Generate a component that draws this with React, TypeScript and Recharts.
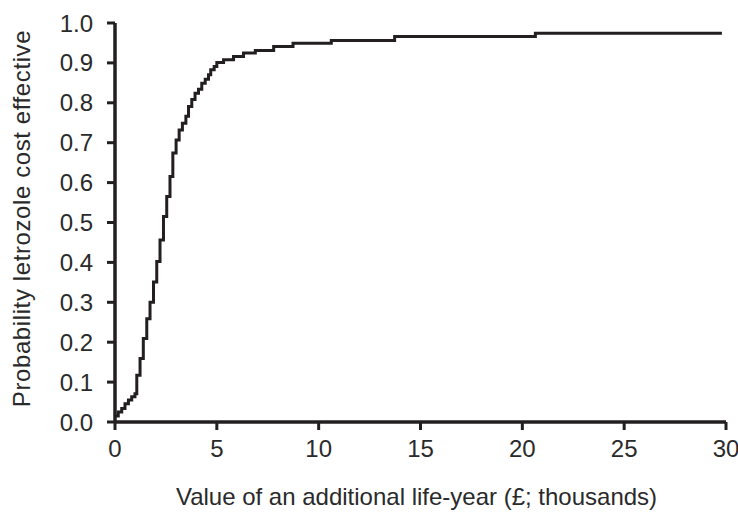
import { LineChart, Line, XAxis, YAxis } from 'recharts'

// value of an additional life-year (£ thousands) and probability cost effective
const xValues = [
  0, 0.16, 0.33, 0.49, 0.66, 0.82, 0.98, 1.07, 1.23, 1.39, 1.56, 1.72, 1.89,
  2.05, 2.21, 2.38, 2.54, 2.7, 2.84, 3.0, 3.15, 3.31, 3.48, 3.61, 3.77, 3.93,
  4.1, 4.26, 4.43, 4.59, 4.7, 4.87, 5.0, 5.33, 5.82, 6.31, 6.89, 7.79, 8.74,
  10.62, 13.73, 20.64, 29.8,
]
const probValues = [
  0.015, 0.025, 0.034, 0.046, 0.055, 0.063, 0.071, 0.117, 0.159, 0.209, 0.259,
  0.3, 0.351, 0.402, 0.456, 0.515, 0.565, 0.615, 0.674, 0.707, 0.732, 0.749,
  0.766, 0.791, 0.808, 0.824, 0.834, 0.849, 0.859, 0.87, 0.883, 0.891, 0.901,
  0.908, 0.916, 0.925, 0.931, 0.941, 0.949, 0.956, 0.966, 0.974, 0.974,
]
const xTicks = [0, 5, 10, 15, 20, 25, 30]
const yTicks = [0, 0.1, 0.2, 0.3, 0.4, 0.5, 0.6, 0.7, 0.8, 0.9, 1.0]

const X_TITLE = 'Value of an additional life-year (£; thousands)'
const Y_TITLE = 'Probability letrozole cost effective'

const INK = '#231f20'
const TEXT = '#2a2a2a'
const FONT = '"Liberation Sans", Arial, sans-serif'

const data = xValues.map((x, i) => ({ x, p: probValues[i] }))

function XTitle(props: any) {
  const vb = props.viewBox
  const cx = vb.x + vb.width / 2 - 4
  const y = vb.y + vb.height + 23
  return (
    <text x={cx} y={y} textAnchor='middle' fill={TEXT} fontSize={24} fontFamily={FONT}>
      {X_TITLE}
    </text>
  )
}

function YTitle(props: any) {
  const vb = props.viewBox
  const cx = vb.x + 21
  const cy = vb.y + vb.height / 2 - 4
  return (
    <text
      x={cx}
      y={cy}
      transform={`rotate(-90 ${cx} ${cy})`}
      textAnchor='middle'
      dominantBaseline='central'
      fill={TEXT}
      fontSize={24}
      letterSpacing={0.6}
      fontFamily={FONT}
    >
      {Y_TITLE}
    </text>
  )
}

export default function App() {
  return (
    <div style={{ position: 'absolute', left: 0, top: 0, background: '#fff' }}>
      <LineChart
        width={738}
        height={514}
        data={data}
        margin={{ top: 23, right: 12, bottom: 32, left: 0 }}
      >
        <XAxis
          dataKey='x'
          type='number'
          domain={[0, 30]}
          ticks={xTicks}
          height={60}
          tickSize={8}
          tickMargin={10}
          axisLine={{ stroke: INK, strokeWidth: 3.5 }}
          tickLine={{ stroke: INK, strokeWidth: 3 }}
          tick={{ fill: TEXT, fontSize: 24, fontFamily: FONT }}
          interval={0}
          label={{ content: XTitle }}
        />
        <YAxis
          type='number'
          domain={[0, 1]}
          ticks={yTicks}
          width={115}
          tickSize={8}
          tickMargin={14}
          tickFormatter={(v: number) => v.toFixed(1)}
          axisLine={{ stroke: INK, strokeWidth: 3.5 }}
          tickLine={{ stroke: INK, strokeWidth: 3 }}
          tick={{ fill: TEXT, fontSize: 24, fontFamily: FONT }}
          interval={0}
          label={{ content: YTitle }}
        />
        <Line
          dataKey='p'
          type='stepAfter'
          stroke={INK}
          strokeWidth={3}
          dot={false}
          activeDot={false}
          isAnimationActive={false}
        />
      </LineChart>
    </div>
  )
}
